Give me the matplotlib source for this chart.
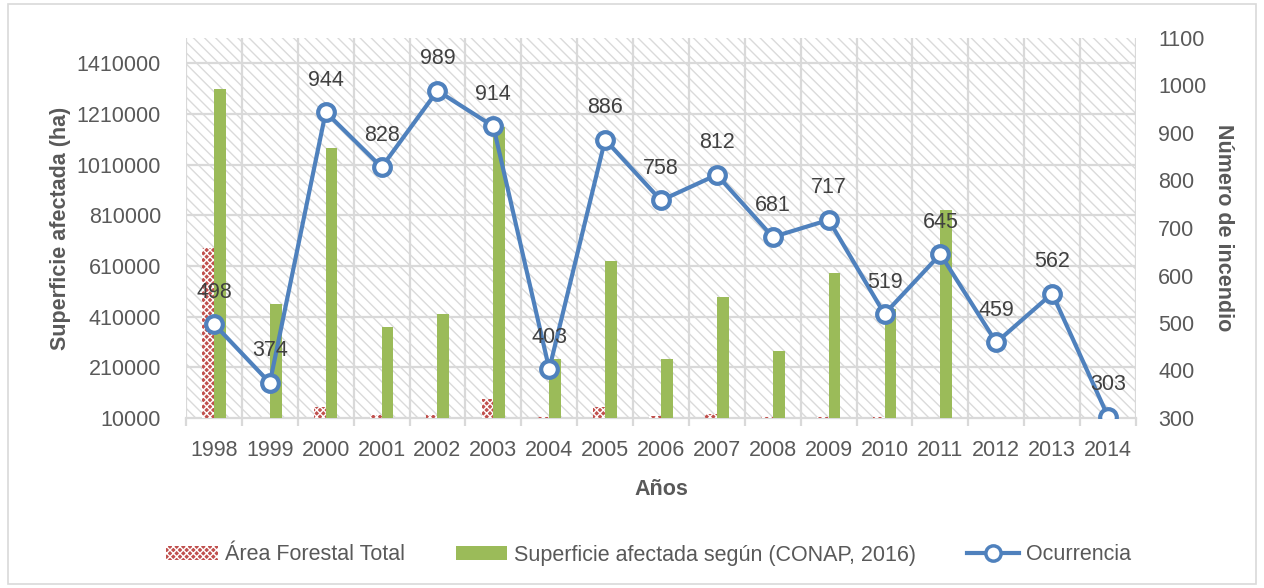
import matplotlib
matplotlib.use("Agg")
import matplotlib.pyplot as plt
from matplotlib.patches import Rectangle, Patch
from matplotlib.lines import Line2D
import numpy as np

years = ["1998", "1999", "2000", "2001", "2002", "2003", "2004", "2005", "2006",
         "2007", "2008", "2009", "2010", "2011", "2012", "2013", "2014"]
area_forestal = [680000, 10000, 53000, 22000, 22000, 85000, 12000, 53000, 18000,
                 26000, 12000, 14000, 12000, 10000, 10000, 10000, 10000]
superficie_conap = [1310000, 460000, 1075000, 369000, 420000, 1158000, 243000, 629000, 243000,
                    487000, 274000, 582000, 440000, 830000, 0, 0, 0]
ocurrencia = [498, 374, 944, 828, 989, 914, 403, 886, 758, 812, 681, 717, 519, 645, 459, 562, 303]

left_ticks = [10000, 210000, 410000, 610000, 810000, 1010000, 1210000, 1410000]
right_ticks = [300, 400, 500, 600, 700, 800, 900, 1000, 1100]

FONT = ["Liberation Sans", "DejaVu Sans"]
plt.rcParams["font.family"] = FONT
plt.rcParams["hatch.linewidth"] = 1.0
TXT = "#595959"
RED = "#C0504D"
GREEN = "#9BBB59"
BLUE = "#4F81BD"
GRID = "#D9D9D9"
FS = 15.5

fig = plt.figure(figsize=(12.64, 5.88), dpi=100)
fig.patches.append(Rectangle((0.006, 0.006), 0.988, 0.988, transform=fig.transFigure,
                             fill=False, edgecolor=GRID, linewidth=1.2))
ax = fig.add_axes([186 / 1264, 1 - 418 / 588, 950 / 1264, 380 / 588])

# hatched background
ax.add_patch(Rectangle((0, 0), 1, 1, transform=ax.transAxes, facecolor="white",
                       edgecolor="#DADADA", hatch="\\\\\\", linewidth=0, zorder=0))

x = np.arange(len(years))
bw = 0.21
base = 10000
ax.bar(x - bw / 2, [v - base for v in area_forestal], bw, bottom=base,
       facecolor=RED, edgecolor="white", hatch="xxxxx", linewidth=0, zorder=3)
ax.bar(x + bw / 2, [max(v - base, 0) for v in superficie_conap], bw, bottom=base,
       color=GREEN, linewidth=0, zorder=3)

ax.set_xlim(-0.5, len(years) - 0.5)
ax.set_ylim(10000, 1510000)
ax.set_yticks(left_ticks)
ax.set_yticklabels([str(t) for t in left_ticks])
ax.set_xticks(x)
ax.set_xticklabels(years)
ax.set_xticks(np.arange(-0.5, len(years)), minor=True)
ax.grid(False)
for t in left_ticks[1:]:
    ax.axhline(t, color=GRID, linewidth=1.6, zorder=1)
for b in np.arange(-0.5, len(years)):
    ax.axvline(b, color=GRID, linewidth=1.6, zorder=1)
ax.tick_params(axis="x", which="major", length=0, pad=16, labelsize=FS, labelcolor=TXT)
ax.tick_params(axis="x", which="minor", length=6, color=GRID, width=1.6)
ax.tick_params(axis="y", length=0, pad=18, labelsize=FS, labelcolor=TXT)
for s in ["top", "right", "left"]:
    ax.spines[s].set_visible(False)
ax.spines["bottom"].set_color(GRID)
ax.spines["bottom"].set_linewidth(1.6)
ax.set_xlabel("Años", fontsize=FS, fontweight="bold", color=TXT, labelpad=13)
ax.set_ylabel("Superficie afectada (ha)", fontsize=FS, fontweight="bold", color=TXT, labelpad=4)

ax2 = ax.twinx()
ax2.set_ylim(300, 1100)
ax2.set_yticks(right_ticks)
ax2.plot(x, ocurrencia, color=BLUE, linewidth=3, marker="o", markersize=12,
         markerfacecolor="white", markeredgecolor=BLUE, markeredgewidth=3, zorder=5)
for xi, v in zip(x, ocurrencia):
    ax2.annotate(str(v), (xi, v), xytext=(0, 23), textcoords="offset points",
                 ha="center", va="center", fontsize=FS, color="#404040", zorder=6)
ax2.tick_params(axis="y", length=0, pad=16, labelsize=FS, labelcolor=TXT)
for s in ["top", "right", "left", "bottom"]:
    ax2.spines[s].set_visible(False)
ax2.set_ylabel("Número de incendio", fontsize=FS, fontweight="bold", color=TXT,
               rotation=270, labelpad=20)

handles = [
    Patch(facecolor=RED, edgecolor="white", hatch="xxxxx", linewidth=0),
    Patch(facecolor=GREEN, linewidth=0),
    Line2D([0], [0], color=BLUE, linewidth=3, marker="o", markersize=11,
           markerfacecolor="white", markeredgecolor=BLUE, markeredgewidth=2.5),
]
labels = ["Área Forestal Total", "Superficie afectada según (CONAP, 2016)", "Ocurrencia"]
leg = fig.legend(handles, labels, loc="center", bbox_to_anchor=(0.513, 1 - 555 / 588),
                 ncol=3, frameon=False, fontsize=FS, handlelength=2.4, handleheight=0.65,
                 columnspacing=2.35, handletextpad=0.33, labelcolor=TXT)

fig.savefig("out.png", dpi=100)
